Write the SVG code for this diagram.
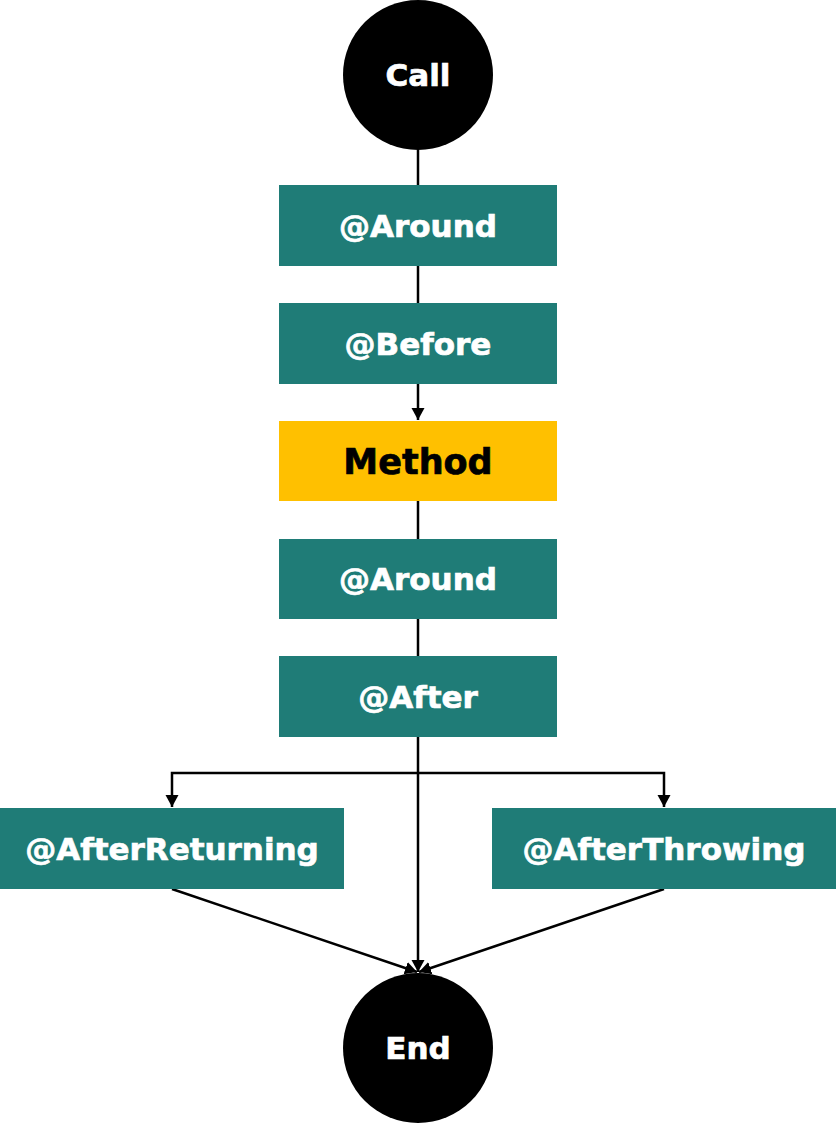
<svg xmlns="http://www.w3.org/2000/svg" width="836" height="1123" viewBox="0 0 836 1123">
<style>
.box{fill:#1F7C77}
.ybox{fill:#FFC000}
.circ{fill:#000}
.lbl{font-family:"DejaVu Sans","Verdana",sans-serif;font-weight:bold;font-size:31px;fill:#fff;stroke:#fff;stroke-width:0.7;text-anchor:middle}
.dark{fill:#000;stroke:#000;font-size:35px}
.edge{fill:none;stroke:#000;stroke-width:2.5}
</style>
<defs>
<marker id="arr" markerUnits="userSpaceOnUse" markerWidth="13" markerHeight="14" refX="12" refY="7" orient="auto" viewBox="0 0 13 14">
<path d="M0,0.5 L12,7 L0,13.5 z" fill="#000"/>
</marker>
</defs>
<g id="connectors">
<line class="edge" x1="418" y1="150" x2="418" y2="185"/>
<line class="edge" x1="418" y1="266" x2="418" y2="303"/>
<line class="edge" x1="418" y1="384" x2="418" y2="420" marker-end="url(#arr)"/>
<line class="edge" x1="418" y1="501" x2="418" y2="539"/>
<line class="edge" x1="418" y1="619" x2="418" y2="656"/>
<line class="edge" x1="418" y1="737" x2="418" y2="972" marker-end="url(#arr)"/>
<path class="edge" d="M418 773 H172 V807" marker-end="url(#arr)"/>
<path class="edge" d="M418 773 H664 V807" marker-end="url(#arr)"/>
<line class="edge" x1="172" y1="889" x2="417" y2="972" marker-end="url(#arr)"/>
<line class="edge" x1="664" y1="889" x2="419" y2="972" marker-end="url(#arr)"/>
</g>
<g id="call"><circle class="circ" cx="418" cy="75" r="75"/><text class="lbl" x="418" y="86">Call</text></g>
<g id="around1"><rect class="box" x="279" y="185" width="278" height="81"/><text class="lbl" x="418" y="237">@Around</text></g>
<g id="before"><rect class="box" x="279" y="303" width="278" height="81"/><text class="lbl" x="418" y="355">@Before</text></g>
<g id="method"><rect class="ybox" x="279" y="421" width="278" height="80"/><text class="lbl dark" x="418" y="474">Method</text></g>
<g id="around2"><rect class="box" x="279" y="539" width="278" height="80"/><text class="lbl" x="418" y="590">@Around</text></g>
<g id="after"><rect class="box" x="279" y="656" width="278" height="81"/><text class="lbl" x="418" y="708">@After</text></g>
<g id="afterReturning"><rect class="box" x="0" y="808" width="344" height="81"/><text class="lbl" x="172" y="860">@AfterReturning</text></g>
<g id="afterThrowing"><rect class="box" x="492" y="808" width="344" height="81"/><text class="lbl" x="664" y="860">@AfterThrowing</text></g>
<g id="end"><circle class="circ" cx="418" cy="1048" r="75"/><text class="lbl" x="418" y="1059">End</text></g>
</svg>
